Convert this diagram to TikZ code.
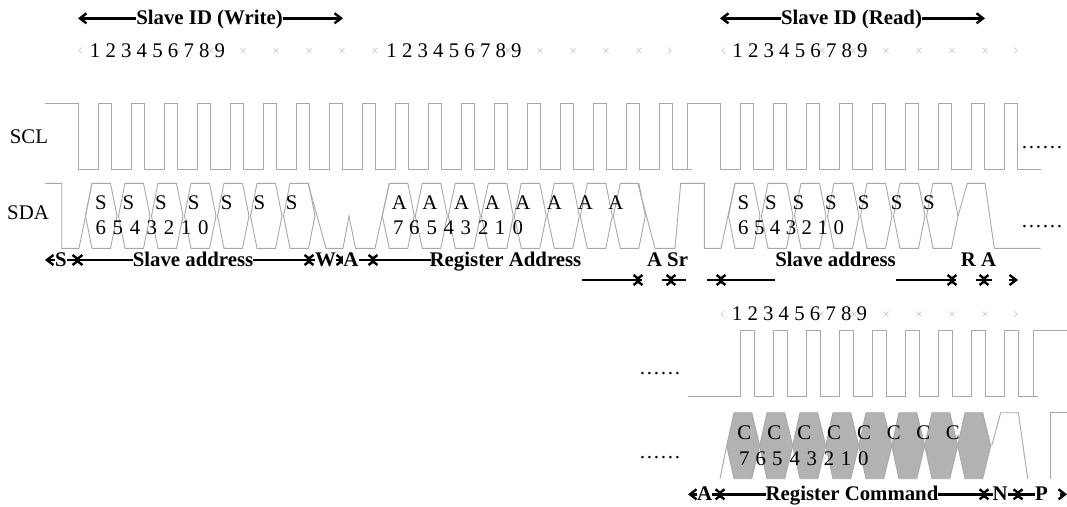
\documentclass[tikz,border=0pt]{standalone}
\usepackage{fontspec}
\setmainfont{Liberation Serif}
\usepackage{xcolor}
\usetikzlibrary{arrows.meta}
\definecolor{TraceGray}{HTML}{A8A8A8}
\definecolor{HexGray}{HTML}{B2B2B2}
\definecolor{TickGray}{HTML}{C4C4C4}
\tikzset{
  >={Straight Barb[length=6.5pt,width=10pt]},
  trace/.style = {draw = TraceGray, line width = .9pt, line join = miter},
  tickmark/.style = {draw = TickGray, line width = .5pt},
  span/.style = {line width = 2.4pt, black},
  lab/.style = {font = \fontsize{20.8}{24}\selectfont\bfseries, fill = white, inner sep = 0pt, anchor = base},
  txt/.style = {font = \fontsize{20.8}{24}\selectfont, inner sep = 0pt}
}

\begin{document}
\begin{tikzpicture}[x = 1pt, y = -1pt]
  \useasboundingbox (0,0) rectangle (1067,506);

  % SCL, upper row
  \draw[trace] (45,103.3) -- (78.5,103.3) -- (78.5,169.5) -- (98.3,169.5);
  \foreach \x in {98.3,131.3,...,660} {
    \draw[trace] (\x,169.5) -- (\x,103.3) -- ++(13.4,0) -- ++(0,66.2) -- ++(19.6,0);
  }
  \draw[trace] (671.7,169.5) -- (687.7,169.5) -- (687.7,103.3) -- (720.7,103.3) -- (720.7,169.5) -- (740.3,169.5);
  \foreach \x in {740.3,773.3,...,1005} {
    \draw[trace] (\x,169.5) -- (\x,103.3) -- ++(13.4,0) -- ++(0,66.2) -- ++(19.6,0);
  }
  \draw[trace] (1017.7,169.5) -- (1040.7,169.5);

  % SDA, upper row
  \foreach \x in {92,125,...,291} {
    \draw[trace] (\x-6.5,216) -- (\x,183.3) -- (\x+18.5,183.3) -- (\x+25,216) -- (\x+18.5,248.3) -- (\x,248.3) -- cycle;
  }
  \foreach \x in {389.3,422.3,...,622} {
    \draw[trace] (\x-7,216) -- (\x,183.3) -- (\x+18.5,183.3) -- (\x+25,216) -- (\x+18.5,248.3) -- (\x,248.3) -- cycle;
  }
  \foreach \x in {735,768,...,934} {
    \draw[trace] (\x-6.5,216) -- (\x,183.3) -- (\x+18.5,183.3) -- (\x+25,216) -- (\x+18.5,248.3) -- (\x,248.3) -- cycle;
  }
  \draw[trace] (45,183.3) -- (61.7,183.3) -- (61.7,248.3) -- (79,248.3) -- (92,183.3);
  \draw[trace] (308,183.3) -- (326,248.3) -- (343,248.3) -- (349,216) -- (355.5,248.3) -- (375,248.3) -- (389.3,183.3);
  \draw[trace] (637.8,183.3) -- (655,248.3) -- (675,248.3) -- (680.7,183.3) -- (704.3,183.3) -- (704.3,248.3) -- (721,248.3) -- (735,183.3);
  \draw[trace] (958,216) -- (967.3,183.3) -- (985,183.3) -- (994.3,248.3) -- (1040.7,248.3);

  % SCL, lower row
  \draw[trace] (688.3,396) -- (740.7,396);
  \foreach \x in {740.7,773.7,...,1005} {
    \draw[trace] (\x,396) -- (\x,330) -- ++(13.3,0) -- ++(0,66) -- ++(19.7,0);
  }
  \draw[trace] (1017.7,396) -- (1033.7,396) -- (1033.7,330) -- (1066.7,330);

  % SDA, lower row
  \foreach \x in {734,767,...,966} {
    \draw[trace, fill = HexGray] (\x-7.3,445.7) -- (\x,412.7) -- (\x+17.7,412.7) -- (\x+25.7,445.7) -- (\x+17.7,478.7) -- (\x,478.7) -- cycle;
  }
  \draw[trace] (720,478.7) -- (726.7,445.7);
  \draw[trace] (991.7,445.7) -- (1000.7,412.7) -- (1018.3,412.7) -- (1027.7,478.7);
  \draw[trace] (1050,478.7) -- (1050,412.7) -- (1066.7,412.7);

  % faint marks along the bit counters
  \foreach \x/\y in {177/50.5,211/50.5,243/50.5,276/50.5,309/50.5,342/50.5,
                     375/50.5,475/50.5,508/50.5,540/50.5,573/50.5,606/50.5,639/50.5,
                     822/50.5,853/50.5,886/50.5,919/50.5,952/50.5,985/50.5,
                     821/314,854/314,886/314,919/314,952/314,985/314} {
    \draw[tickmark] (\x-2.5,\y-2.5) -- (\x+2.5,\y+2.5) (\x-2.5,\y+2.5) -- (\x+2.5,\y-2.5);
  }
  \foreach \x/\y in {82/50.5,725/50.5,724/314} {
    \draw[tickmark] (\x,\y-3) -- (\x-3,\y) -- (\x,\y+3);
  }
  \foreach \x/\y in {668/50.5,1014/50.5,1014/314} {
    \draw[tickmark] (\x,\y-3) -- (\x+3,\y) -- (\x,\y+3);
  }

  % spans
  \foreach \a/\b in {45/81,74/313,305/345,337/377} {
    \draw[span, <->] (\a,260) -- (\b,260);
  }
  \foreach \a/\b in {688/724,716/988,980/1022} {
    \draw[span, <->] (\a,494.3) -- (\b,494.3);
  }
  \draw[span, <->] (78,18.3) -- (343,18.3);
  \draw[span, <->] (720,18.3) -- (985,18.3);
  \draw[span, <-] (369,260) -- (431,260);
  \draw[span, <-] (1014,494.3) -- (1037,494.3);
  \draw[span, ->] (1060,494.3) -- (1067,494.3);

  \draw[span, ->] (582,280) -- (642,280);
  \draw[span, <-] (634,280) -- (642,280);
  \draw[span, ->] (662,280) -- (675,280);
  \draw[span, <-] (667,280) -- (686,280);
  \draw[span, ->] (707,280) -- (725,280);
  \draw[span, <-] (717,280) -- (775,280);
  \draw[span, ->] (896,280) -- (956,280);
  \draw[span, <-] (948,280) -- (956,280);
  \draw[span, ->] (976,280) -- (988,280);
  \draw[span, <-] (980,280) -- (992,280);
  \draw[span, ->] (1009,280) -- (1018,280);

  \node[lab] (idwrite) at (209.5,24) {Slave ID (Write)};
  \node[lab] (idread) at (851.5,24) {Slave ID (Read)};
  \node[lab] (start) at (61,266.7) {S};
  \node[lab] (addrw) at (193,266.7) {Slave address};
  \node[lab] (write) at (325.5,266.7) {W};
  \node[lab] (ackw) at (351,266.7) {A};
  \node[lab, fill = none] (regaddr) at (505.5,266.7) {Register Address};
  \node[lab, fill = none] (acksr) at (667.5,266.7) {A Sr};
  \node[lab, fill = none] (addrr) at (835.5,266.7) {Slave address};
  \node[lab, fill = none] (read) at (978.5,266.7) {R A};
  \node[lab] (ackc) at (704.5,500) {A};
  \node[lab] (regcmd) at (852,500) {Register Command};
  \node[lab] (nack) at (1000,500) {N};
  \node[lab] (stop) at (1041.5,500) {P};

  \node[txt] (countA) at (157.5,50.5) {1 2 3 4 5 6 7 8 9};
  \node[txt] (countB) at (454,50.5) {1 2 3 4 5 6 7 8 9};
  \node[txt] (countC) at (800,50.5) {1 2 3 4 5 6 7 8 9};
  \node[txt] (countD) at (799.5,314) {1 2 3 4 5 6 7 8 9};

  \node[txt] (scl) at (29,137) {SCL};
  \node[txt] (sda) at (28,212.7) {SDA};
  \node[txt, anchor = base] (dotsA) at (1042,148) {……};
  \node[txt, anchor = base] (dotsB) at (1042,227.7) {……};
  \node[txt, anchor = base] (dotsC) at (660,374.7) {……};
  \node[txt, anchor = base] (dotsD) at (660,458) {……};

  % bit names inside the data cells
  \foreach \x in {101,128.3,161,193.7,226.7,259.3,291.7,743.3,771,798.3,831,863.7,896.7,929} {
    \node[txt] at (\x,202.3) {S};
  }
  \foreach \x in {399.3,430,461.7,492.3,523,554.3,585.3,616} {
    \node[txt] at (\x,202.3) {A};
  }
  \foreach \x in {744.3,774.3,804.3,834,864,893.7,923.3,952.7} {
    \node[txt] at (\x,432.3) {C};
  }
  \foreach \x/\d in {100.7/6,117.7/5,135/4,151.7/3,169/2,186/1,203.3/0,
                     398.3/7,414.3/6,431.7/5,448.7/4,465.7/3,483.3/2,500/1,517.7/0,
                     743.3/6,759.3/5,775/4,791/3,806.7/2,822.7/1,838.7/0} {
    \node[txt] at (\x,227.3) {\d};
  }
  \foreach \x/\d in {744.3/7,760.7/6,777.3/5,794.7/4,811.7/3,829/2,846/1,863.3/0} {
    \node[txt] at (\x,459) {\d};
  }
\end{tikzpicture}
\end{document}
